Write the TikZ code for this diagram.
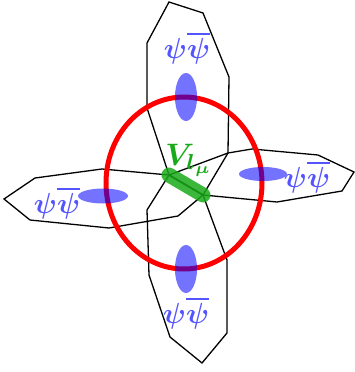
\documentclass[tikz,border=0pt]{standalone}
\usepackage{amsmath}
\usepackage{bm}
\usepackage{graphicx}
\usetikzlibrary{shapes.geometric,positioning}
\definecolor{psiblue}{RGB}{85,85,255}
\definecolor{vgreen}{RGB}{25,170,25}
\newcommand{\psipair}{\scalebox{2.9}{$\bm{\psi\overline{\psi}}$}}
\tikzset{
  cell/.style = {draw=black, line width=1.3pt, line join=miter},
  ring/.style = {draw=red, line width=5pt},
  blob/.style = {fill=blue, fill opacity=0.55, draw=none, ellipse, inner sep=0pt},
  lbl/.style = {text=psiblue, inner sep=0pt},
  vtx/.style = {draw=vgreen, line width=15pt, line cap=round, opacity=0.85}
}
\begin{document}
\begin{tikzpicture}[x=1pt,y=-1pt]
  \useasboundingbox (0,0) rectangle (355,372);
  \coordinate (vl) at (169,175);
  \coordinate (vr) at (203,195);
  % the four cells
  \draw[cell] (vl) -- (147,108) -- (147,43) -- (169,2) -- (203,13) -- (229,77) -- (228,153) -- (vr) -- cycle;
  \draw[cell] (vl) -- (228,153) -- (252,149) -- (318,155) -- (354,172) -- (342,191) -- (277,202) -- (vr) -- cycle;
  \draw[cell] (vr) -- (227,260) -- (227,333) -- (202,363) -- (170,337) -- (149,275) -- (147,210) -- (vl) -- cycle;
  \draw[cell] (vl) -- (102,169) -- (35,178) -- (4,199) -- (30,220) -- (109,228) -- (178,216) -- (vr) -- cycle;
  % loop
  \draw[ring] (184,183) ellipse (78pt and 86pt);
  % blobs
  \node[blob, minimum width=22pt, minimum height=48pt] (bt) at (186,97) {};
  \node[blob, minimum width=22pt, minimum height=48pt] (bb) at (186,269) {};
  \node[blob, minimum width=50pt, minimum height=15pt] (bl) at (103,196) {};
  \node[blob, minimum width=48pt, minimum height=14pt] (br) at (263,174) {};
  % vertex
  \draw[vtx] (vl) -- (vr);
  \node[text=vgreen, inner sep=0pt] (vlab) at (189,160) {\scalebox{3.1}{$\bm{V_{l_\mu}}$}};
  % labels
  \node[lbl] (pt) at (187,48) {\psipair};
  \node[lbl] (pb) at (186,313) {\psipair};
  \node[lbl] (pl) at (57,203) {\psipair};
  \node[lbl] (pr) at (307,177) {\psipair};
\end{tikzpicture}
\end{document}
